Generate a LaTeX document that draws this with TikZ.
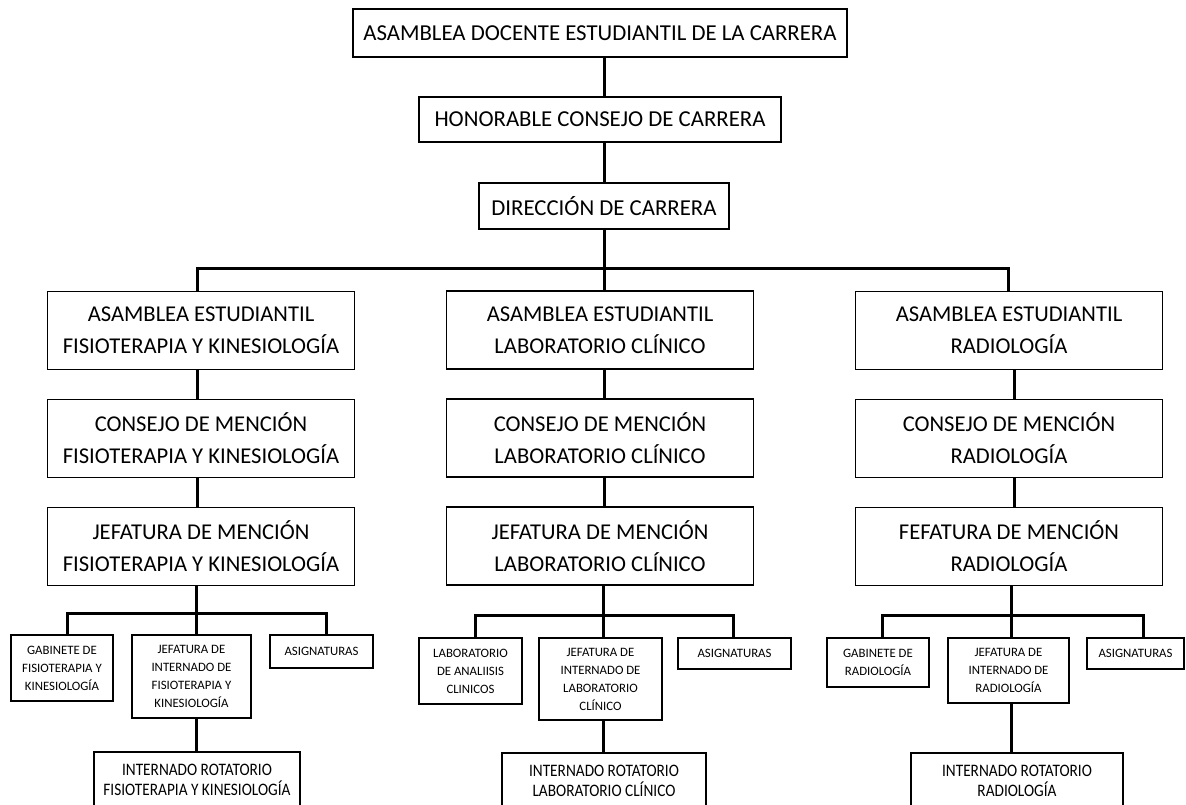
\documentclass[tikz,border=0pt]{standalone}
\usepackage{fontspec}
\setmainfont{Carlito}
\newfontfamily\narrowfont[FakeStretch=0.874]{Carlito}
\usepackage{tikz}
\usetikzlibrary{positioning}
\tikzset{ % global config
    x=1pt, y=-1pt, % one unit is one pixel, y goes down
    node distance=108pt, % distance between the boxes of one column
    box/.style={draw, line width=1.4pt, inner sep=0pt, align=center}, % every box of the chart
    big/.style={box, font=\fontsize{22.8}{26}\selectfont}, % top boxes
    mid/.style={box, minimum width=307pt, minimum height=78pt, font=\fontsize{22.6}{32}\selectfont}, % column boxes
    small/.style={box, font=\fontsize{12.8}{18}\selectfont}, % boxes under the columns
    low/.style={box, font=\narrowfont\fontsize{17.5}{20.5}\selectfont}, % last row
    link/.style={line width=3pt}, % lines between boxes
}
\begin{document}
\begin{tikzpicture}
	\useasboundingbox (0,0) rectangle (1186,804);

		\node[big, minimum width=494pt, minimum height=48pt] (ade) at (600,33) {ASAMBLEA DOCENTE ESTUDIANTIL DE LA CARRERA};
		\node[big, minimum width=362pt, minimum height=45pt] (hcc) at (600,119.5) {HONORABLE CONSEJO DE CARRERA};
		\node[big, minimum width=250pt, minimum height=46pt] (dir) at (604,206) {DIRECCIÓN DE CARRERA};

		% columns
		\node[mid] (aeFK) at (201,330.5) {ASAMBLEA ESTUDIANTIL\\FISIOTERAPIA Y KINESIOLOGÍA};
		\node[mid, below of = aeFK] (cmFK) {CONSEJO DE MENCIÓN\\FISIOTERAPIA Y KINESIOLOGÍA};
		\node[mid, below of = cmFK] (jmFK) {JEFATURA DE MENCIÓN\\FISIOTERAPIA Y KINESIOLOGÍA};
		\node[mid] (aeLC) at (600,330) {ASAMBLEA ESTUDIANTIL\\LABORATORIO CLÍNICO};
		\node[mid, below of = aeLC] (cmLC) {CONSEJO DE MENCIÓN\\LABORATORIO CLÍNICO};
		\node[mid, below of = cmLC] (jmLC) {JEFATURA DE MENCIÓN\\LABORATORIO CLÍNICO};
		\node[mid] (aeRA) at (1009,330.5) {ASAMBLEA ESTUDIANTIL\\RADIOLOGÍA};
		\node[mid, below of = aeRA] (cmRA) {CONSEJO DE MENCIÓN\\RADIOLOGÍA};
		\node[mid, below of = cmRA] (jmRA) {FEFATURA DE MENCIÓN\\RADIOLOGÍA};

		% under the columns
		\node[small, minimum width=102pt, minimum height=66pt] (gaFK) at (62,668) {GABINETE DE\\FISIOTERAPIA Y\\KINESIOLOGÍA};
		\node[small, minimum width=119pt, minimum height=83pt] (jiFK) at (191.5,676.5) {JEFATURA DE\\INTERNADO DE\\FISIOTERAPIA Y\\KINESIOLOGÍA};
		\node[small, minimum width=103pt, minimum height=33pt] (asFK) at (321.5,651.5) {ASIGNATURAS};
		\node[low, minimum width=206pt, minimum height=56pt] (irFK) at (197,780) {INTERNADO ROTATORIO\\FISIOTERAPIA Y KINESIOLOGÍA};
		\node[small, minimum width=103pt, minimum height=66pt] (laLC) at (470.5,671) {LABORATORIO\\DE ANALIISIS\\CLINICOS};
		\node[small, minimum width=123pt, minimum height=82pt] (jiLC) at (600.5,679) {JEFATURA DE\\INTERNADO DE\\LABORATORIO\\CLÍNICO};
		\node[small, minimum width=113pt, minimum height=31pt] (asLC) at (734.5,653.5) {ASIGNATURAS};
		\node[low, minimum width=204pt, minimum height=56pt] (irLC) at (604,781) {INTERNADO ROTATORIO\\LABORATORIO CLÍNICO};
		\node[small, minimum width=102pt, minimum height=49pt] (gaRA) at (878,662.5) {GABINETE DE\\RADIOLOGÍA};
		\node[small, minimum width=121pt, minimum height=65pt] (jiRA) at (1008.5,670.5) {JEFATURA DE\\INTERNADO DE\\RADIOLOGÍA};
		\node[small, minimum width=97pt, minimum height=31pt] (asRA) at (1135.5,653.5) {ASIGNATURAS};
		\node[low, minimum width=212pt, minimum height=56pt] (irRA) at (1017,781) {INTERNADO ROTATORIO\\RADIOLOGÍA};

		\coordinate (bus) at (604,268);
		\coordinate (busFK) at (196,613);
		\coordinate (busLC) at (603,615);
		\coordinate (busRA) at (1011,615);

		\draw[link] (ade.south -| bus) -- (hcc.north -| bus)
		(hcc.south -| bus) -- (dir.north -| bus)
		(dir.south -| bus) -- (bus)
		(aeFK.north -| 197,0) |- (bus) -| (aeRA.north -| 1008,0)
		(bus) -- (aeLC.north -| bus)
		(aeFK.south -| 197,0) -- (cmFK.north -| 197,0)
		(cmFK.south -| 197,0) -- (jmFK.north -| 197,0)
		(aeLC.south -| bus) -- (cmLC.north -| bus)
		(cmLC.south -| bus) -- (jmLC.north -| bus)
		(aeRA.south -| 1014,0) -- (cmRA.north -| 1014,0)
		(cmRA.south -| 1014,0) -- (jmRA.north -| 1014,0)
		(jmFK.south -| busFK) -- (busFK)
		(gaFK.north -| 67,0) |- (busFK) -| (asFK.north -| 326,0)
		(busFK) -- (jiFK.north -| busFK)
		(jiFK.south -| busFK) -- (irFK.north -| busFK)
		(jmLC.south -| busLC) -- (busLC)
		(laLC.north -| 475,0) |- (busLC) -| (asLC.north -| 733,0)
		(busLC) -- (jiLC.north -| busLC)
		(jiLC.south -| busLC) -- (irLC.north -| busLC)
		(jmRA.south -| busRA) -- (busRA)
		(gaRA.north -| 882,0) |- (busRA) -| (asRA.north -| 1143,0)
		(busRA) -- (jiRA.north -| busRA)
		(jiRA.south -| busRA) -- (irRA.north -| busRA);

	\end{tikzpicture}
\end{document}
